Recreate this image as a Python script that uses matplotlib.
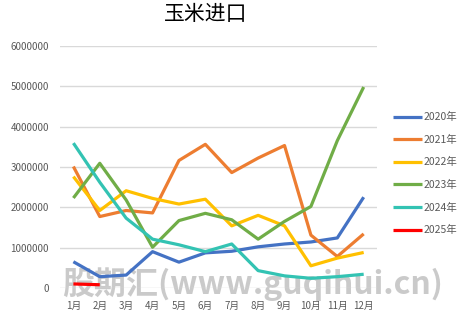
import matplotlib.pyplot as plt

plt.rcParams['font.family'] = ['Noto Sans CJK SC', 'DejaVu Sans']

months = ['1月', '2月', '3月', '4月', '5月', '6月', '7月', '8月', '9月', '10月', '11月', '12月']
y2020 = [650000, 280000, 320000, 900000, 640000, 870000, 910000, 1020000, 1090000, 1140000, 1240000, 2250000]
y2021 = [3010000, 1770000, 1920000, 1860000, 3160000, 3560000, 2860000, 3220000, 3530000, 1310000, 780000, 1340000]
y2022 = [2760000, 1920000, 2410000, 2220000, 2080000, 2200000, 1540000, 1800000, 1540000, 550000, 740000, 880000]
y2023 = [2230000, 3090000, 2180000, 1010000, 1670000, 1850000, 1690000, 1210000, 1650000, 2020000, 3650000, 4980000]
y2024 = [3590000, 2620000, 1730000, 1210000, 1070000, 900000, 1090000, 430000, 300000, 240000, 280000, 340000]
y2025 = [100000, 80000]

series = [('2020年', y2020, '#4472C4'),
          ('2021年', y2021, '#ED7D31'),
          ('2022年', y2022, '#FFC000'),
          ('2023年', y2023, '#70AD47'),
          ('2024年', y2024, '#33C3B3'),
          ('2025年', y2025, '#FF0000')]

fig = plt.figure(figsize=(4.63, 3.12), dpi=100)
ax = fig.add_axes([0.13, 0.077, 0.684, 0.776])

# watermark behind the plot
fig.text(0.545, 0.088, '股期汇(www.guqihui.cn)', ha='center', va='center', fontsize=23,
         fontweight='bold', style='italic', color='#a8a8a8', alpha=0.6, zorder=-1)

for name, vals, col in series:
    x = list(range(1, len(vals) + 1))
    ax.plot(x, vals, color=col, lw=2.3, label=name, solid_capstyle='butt')

ax.set_xlim(0.5, 12.5)
ax.set_ylim(0, 6000000)
ax.set_yticks(range(0, 6000001, 1000000))
ax.set_yticklabels([str(v) for v in range(0, 6000001, 1000000)])
ax.set_xticks(range(1, 13))
ax.set_xticklabels(months)
ax.tick_params(length=0, labelsize=7, labelcolor='#595959')
ax.tick_params(axis='x', pad=9)
ax.tick_params(axis='y', pad=8)
ax.grid(axis='y', color='#D9D9D9', lw=1)
ax.set_axisbelow(True)
ax.patch.set_alpha(0)
for s in ax.spines.values():
    s.set_visible(False)

fig.text(0.445, 0.955, '玉米进口', ha='center', va='center', fontsize=15, color='black')

ax.legend(loc='upper left', bbox_to_anchor=(1.02, 0.765), frameon=False, fontsize=7.5,
          handlelength=2.8, handletextpad=0.2, labelspacing=1.2, labelcolor='#595959')

fig.savefig('out.png', dpi=100)
